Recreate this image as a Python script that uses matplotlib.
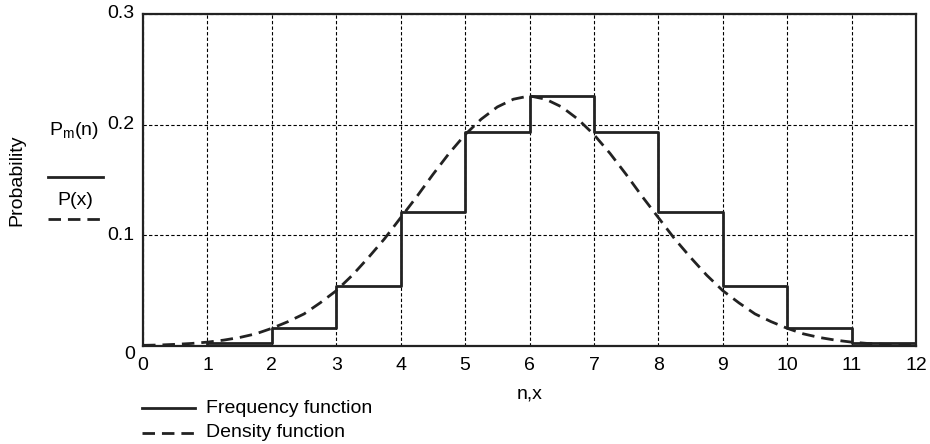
import matplotlib
matplotlib.use('Agg')
import matplotlib.pyplot as plt
from matplotlib.lines import Line2D

plt.rcParams['font.family'] = ['Liberation Sans', 'DejaVu Sans']

# frequency function P_m(n), one step per n
n_vals = [0, 1, 2, 3, 4, 5, 6, 7, 8, 9, 10, 11, 12]
pm_vals = [0.0002, 0.003, 0.016, 0.054, 0.121, 0.193, 0.226, 0.193, 0.121, 0.054, 0.016, 0.003, 0.003]

# density function P(x)
x_vals = [0, 0.25, 0.5, 0.75, 1, 1.25, 1.5, 1.75, 2, 2.25, 2.5, 2.75, 3, 3.25, 3.5, 3.75,
          4, 4.25, 4.5, 4.75, 5, 5.25, 5.5, 5.75, 6, 6.25, 6.5, 6.75, 7, 7.25, 7.5, 7.75,
          8, 8.25, 8.5, 8.75, 9, 9.25, 9.5, 9.75, 10, 10.25, 10.5, 10.75, 11, 11.25, 11.5, 11.75, 12]
px_vals = [0.0006, 0.0009, 0.0015, 0.0023, 0.0035, 0.0053, 0.0077, 0.011, 0.016, 0.022, 0.029, 0.039,
           0.050, 0.064, 0.080, 0.097, 0.116, 0.135, 0.155, 0.174, 0.191, 0.205, 0.216, 0.223, 0.226,
           0.223, 0.216, 0.205, 0.191, 0.174, 0.155, 0.135, 0.116, 0.097, 0.080, 0.064, 0.050, 0.039,
           0.029, 0.022, 0.016, 0.011, 0.0077, 0.0053, 0.0035, 0.0023, 0.0015, 0.0009, 0.0006]

x_ticks = list(range(13))
y_ticks = [0, 0.1, 0.2, 0.3]
y_labels = ['0', '0.1', '0.2', '0.3']

fs = 14
dash = (0, (4.5, 2.5))

fig = plt.figure(figsize=(9.3, 4.44), dpi=100)
ax = fig.add_axes([0.1538, 0.2207, 0.8312, 0.7478])

ax.step(n_vals, pm_vals, where='post', color='#222222', lw=2.0, zorder=3)
ax.plot(x_vals, px_vals, color='#222222', lw=2.0, ls=dash, zorder=4)

ax.set_xlim(0, 12)
ax.set_ylim(0, 0.3)
ax.set_xticks(x_ticks)
ax.set_yticks(y_ticks)
ax.set_yticklabels(y_labels)
ax.tick_params(length=0, labelsize=fs)
ax.tick_params(axis='x', pad=8)
ax.tick_params(axis='y', pad=6)
for lab in ax.get_yticklabels():
    lab.set_verticalalignment('top' if lab.get_text() == '0' else 'center')
ax.grid(True, color='black', ls=(0, (3, 2)), lw=0.8)
for s in ax.spines.values():
    s.set_linewidth(1.6)
    s.set_color('#222222')

ax.set_xlabel('n,x', fontsize=fs, labelpad=8)

# y-axis labels with line samples
fig.text(0.018, 0.595, 'Probability', rotation=90, fontsize=fs, ha='center', va='center')
fig.text(0.079, 0.705, r'P$_\mathregular{m}$(n)', fontsize=fs, ha='center', va='center')
fig.add_artist(Line2D([0.052, 0.111], [0.601, 0.601], color='#222222', lw=2.0))
fig.text(0.081, 0.548, 'P(x)', fontsize=fs, ha='center', va='center')
fig.add_artist(Line2D([0.052, 0.111], [0.507, 0.507], color='#222222', lw=2.0, ls=dash))

# legend at bottom
fig.add_artist(Line2D([0.1527, 0.2097], [0.081, 0.081], color='#222222', lw=2.0))
fig.text(0.222, 0.081, 'Frequency function', fontsize=fs, va='center')
fig.add_artist(Line2D([0.1527, 0.2097], [0.025, 0.025], color='#222222', lw=2.0, ls=dash))
fig.text(0.222, 0.025, 'Density function', fontsize=fs, va='center')

fig.savefig('out.png', dpi=100)
